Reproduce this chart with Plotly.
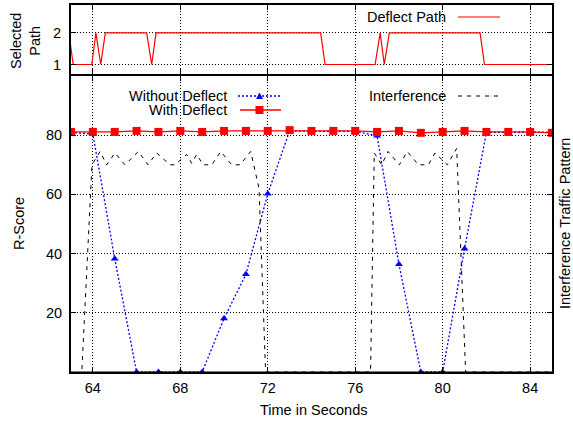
import plotly.graph_objects as go

# ---------------- data ----------------
time_s = [63, 64, 65, 66, 67, 68, 69, 70, 71, 72, 73, 74, 75, 76, 77, 78, 79, 80, 81, 82, 83, 84, 85]
without_deflect = [80.9, 80.4, 38.3, 0, 0, 0, 0, 18.1, 33.0, 60.2, 81.5, 81.3, 81.3, 81.3, 79.8, 36.4, 0, 0, 41.6, 81.0, 81.0, 81.0, 81.0]
with_deflect = [81.1, 81.1, 81.1, 81.45, 81.1, 81.45, 81.1, 81.45, 81.45, 81.45, 81.7, 81.45, 81.45, 81.45, 81.1, 81.45, 80.8, 81.1, 81.45, 81.1, 81.1, 81.1, 80.8]

intf_t = [63.5, 63.96, 64.33, 64.63, 65.01, 65.47, 66.08, 66.52, 66.92, 67.53, 67.76, 68.29, 68.52, 68.75,
          69.04, 69.44, 69.85, 70.35, 70.73, 71.22, 71.6, 71.9, 76.7, 76.87, 77.21, 77.5, 78.02, 78.38,
          78.89, 79.35, 79.65, 80.21, 80.64, 81.05, 85.0]
intf_v = [1, 70, 74.5, 70, 74, 70, 74.5, 70, 74, 70, 70, 73.5, 70.5, 73.5,
          70, 70, 74.5, 70, 70, 74.5, 62, 0, 0, 74, 70, 74.5, 70, 74.5,
          70, 70, 74, 70, 75.5, 0, 0]

path_t = [62.9, 63.1, 63.95, 64.14, 64.36, 64.57, 66.46, 66.69, 66.89, 74.42, 74.62, 76.91, 77.14, 77.33, 77.56, 81.71, 81.91, 85.0]
path_v = [2, 1, 1, 2, 1, 2, 2, 1, 2, 2, 1, 1, 2, 1, 2, 2, 1, 1]

x_ticks = [64, 68, 72, 76, 80, 84]
y_ticks = [20, 40, 60, 80]
path_ticks = [1, 2]

# ---------------- layout helpers ----------------
W, H = 573, 422
ML, MR, MT, MB = 71, 21, 5, 50
PW, PH = W - ML - MR, H - MT - MB
split_main = (372 - 76) / PH
split_top = (372 - 74) / PH
FONT = "Liberation Sans, Arial, sans-serif"
BLUE, RED = "#0000ff", "#ff0000"
FS = 14.5


def px(x):
    return (x - ML) / PW


def py(y):
    return (H - MB - y) / PH


fig = go.Figure()
fig.add_trace(go.Scatter(x=time_s, y=without_deflect, mode="lines+markers", name="Without Deflect",
                         line=dict(color=BLUE, width=1.3, dash="2px,2px"),
                         marker=dict(symbol="triangle-up", size=7, color=BLUE),
                         xaxis="x", yaxis="y", showlegend=False))
fig.add_trace(go.Scatter(x=time_s, y=with_deflect, mode="lines+markers", name="With Deflect",
                         line=dict(color=RED, width=1.3),
                         marker=dict(symbol="square", size=8, color=RED),
                         xaxis="x", yaxis="y", showlegend=False))
fig.add_trace(go.Scatter(x=intf_t, y=intf_v, mode="lines", name="Interference",
                         line=dict(color="black", width=1, dash="4px,5px"),
                         xaxis="x", yaxis="y", showlegend=False))
fig.add_trace(go.Scatter(x=path_t, y=path_v, mode="lines", name="Deflect Path",
                         line=dict(color=RED, width=1.2),
                         xaxis="x2", yaxis="y2", showlegend=False))

axis_common = dict(showline=True, linewidth=2, linecolor="black", mirror="ticks",
                   ticks="inside", ticklen=5, tickwidth=1, tickcolor="black",
                   showgrid=True, gridcolor="black", gridwidth=1, griddash="1px,2px",
                   zeroline=False, tickfont=dict(family=FONT, size=FS, color="black"))

fig.update_layout(
    width=W, height=H, margin=dict(l=ML, r=MR, t=MT, b=MB, autoexpand=False),
    paper_bgcolor="white", plot_bgcolor="white",
    font=dict(family=FONT, size=FS, color="black"),
    xaxis=dict(domain=[0, 1], anchor="y", range=[63, 85], tickvals=x_ticks,
               ticklabelstandoff=2, **axis_common),
    yaxis=dict(domain=[0, split_main], anchor="x", range=[0, 100], tickvals=y_ticks,
               ticklabelstandoff=4, **axis_common),
    xaxis2=dict(domain=[0, 1], anchor="y2", range=[63, 85], tickvals=x_ticks, matches="x",
                showticklabels=False, **axis_common),
    yaxis2=dict(domain=[split_top, 1], anchor="x2", range=[0.7, 2.88], tickvals=path_ticks,
                ticklabelstandoff=5, **axis_common),
)

ann = []
shapes = []


def text(t, x, y, xanchor="center", angle=0):
    ann.append(dict(text=t, x=px(x), y=py(y), xref="paper", yref="paper", xanchor=xanchor,
                    yanchor="middle", showarrow=False, textangle=angle,
                    font=dict(family=FONT, size=FS, color="black")))


# axis titles
text("Time in Seconds", 313, 410)
text("R-Score", 19, 224, angle=-90)
text("Selected<br>Path", 25, 41, angle=-90)
text("Interference Traffic Pattern", 565, 224, angle=-90)

# legend texts
text("Without Deflect", 229, 95.5, xanchor="right")
text("With Deflect", 229, 110.5, xanchor="right")
text("Interference", 448, 96, xanchor="right")
text("Deflect Path", 448, 17, xanchor="right")


def sample_line(x0, x1, y, color, dash="solid", width=1.2):
    shapes.append(dict(type="line", xref="paper", yref="paper", x0=px(x0), x1=px(x1), y0=py(y), y1=py(y),
                       line=dict(color=color, width=width, dash=dash)))


sample_line(238, 280, 96, BLUE, "2px,2px", 1.3)
sample_line(240, 281, 110, RED, "solid", 1.3)
sample_line(458, 500, 96, "black", "4px,5px", 1)
sample_line(458, 500, 17, RED, "solid", 1.2)

# legend marker glyphs
cx, cy = 259.5, 110
shapes.append(dict(type="rect", xref="paper", yref="paper", x0=px(cx - 4), x1=px(cx + 4),
                   y0=py(cy + 4), y1=py(cy - 4), fillcolor=RED, line=dict(width=0)))
tx, ty = 259.5, 96
shapes.append(dict(type="path", xref="paper", yref="paper",
                   path=f"M {px(tx-3.5)} {py(ty+3)} L {px(tx+3.5)} {py(ty+3)} L {px(tx)} {py(ty-3.5)} Z",
                   fillcolor=BLUE, line=dict(width=0)))

# gnuplot-style border drawn over the plot so zero-valued lines sit under it
shapes.append(dict(type="line", xref="paper", yref="paper", x0=0, x1=1, y0=0, y1=0, layer="above",
                   line=dict(color="black", width=1.2)))

fig.update_layout(annotations=ann, shapes=shapes)

fig.write_html("out.html", config={"displayModeBar": False},
               post_script="document.body.style.margin='0';document.body.style.overflow='hidden';")
